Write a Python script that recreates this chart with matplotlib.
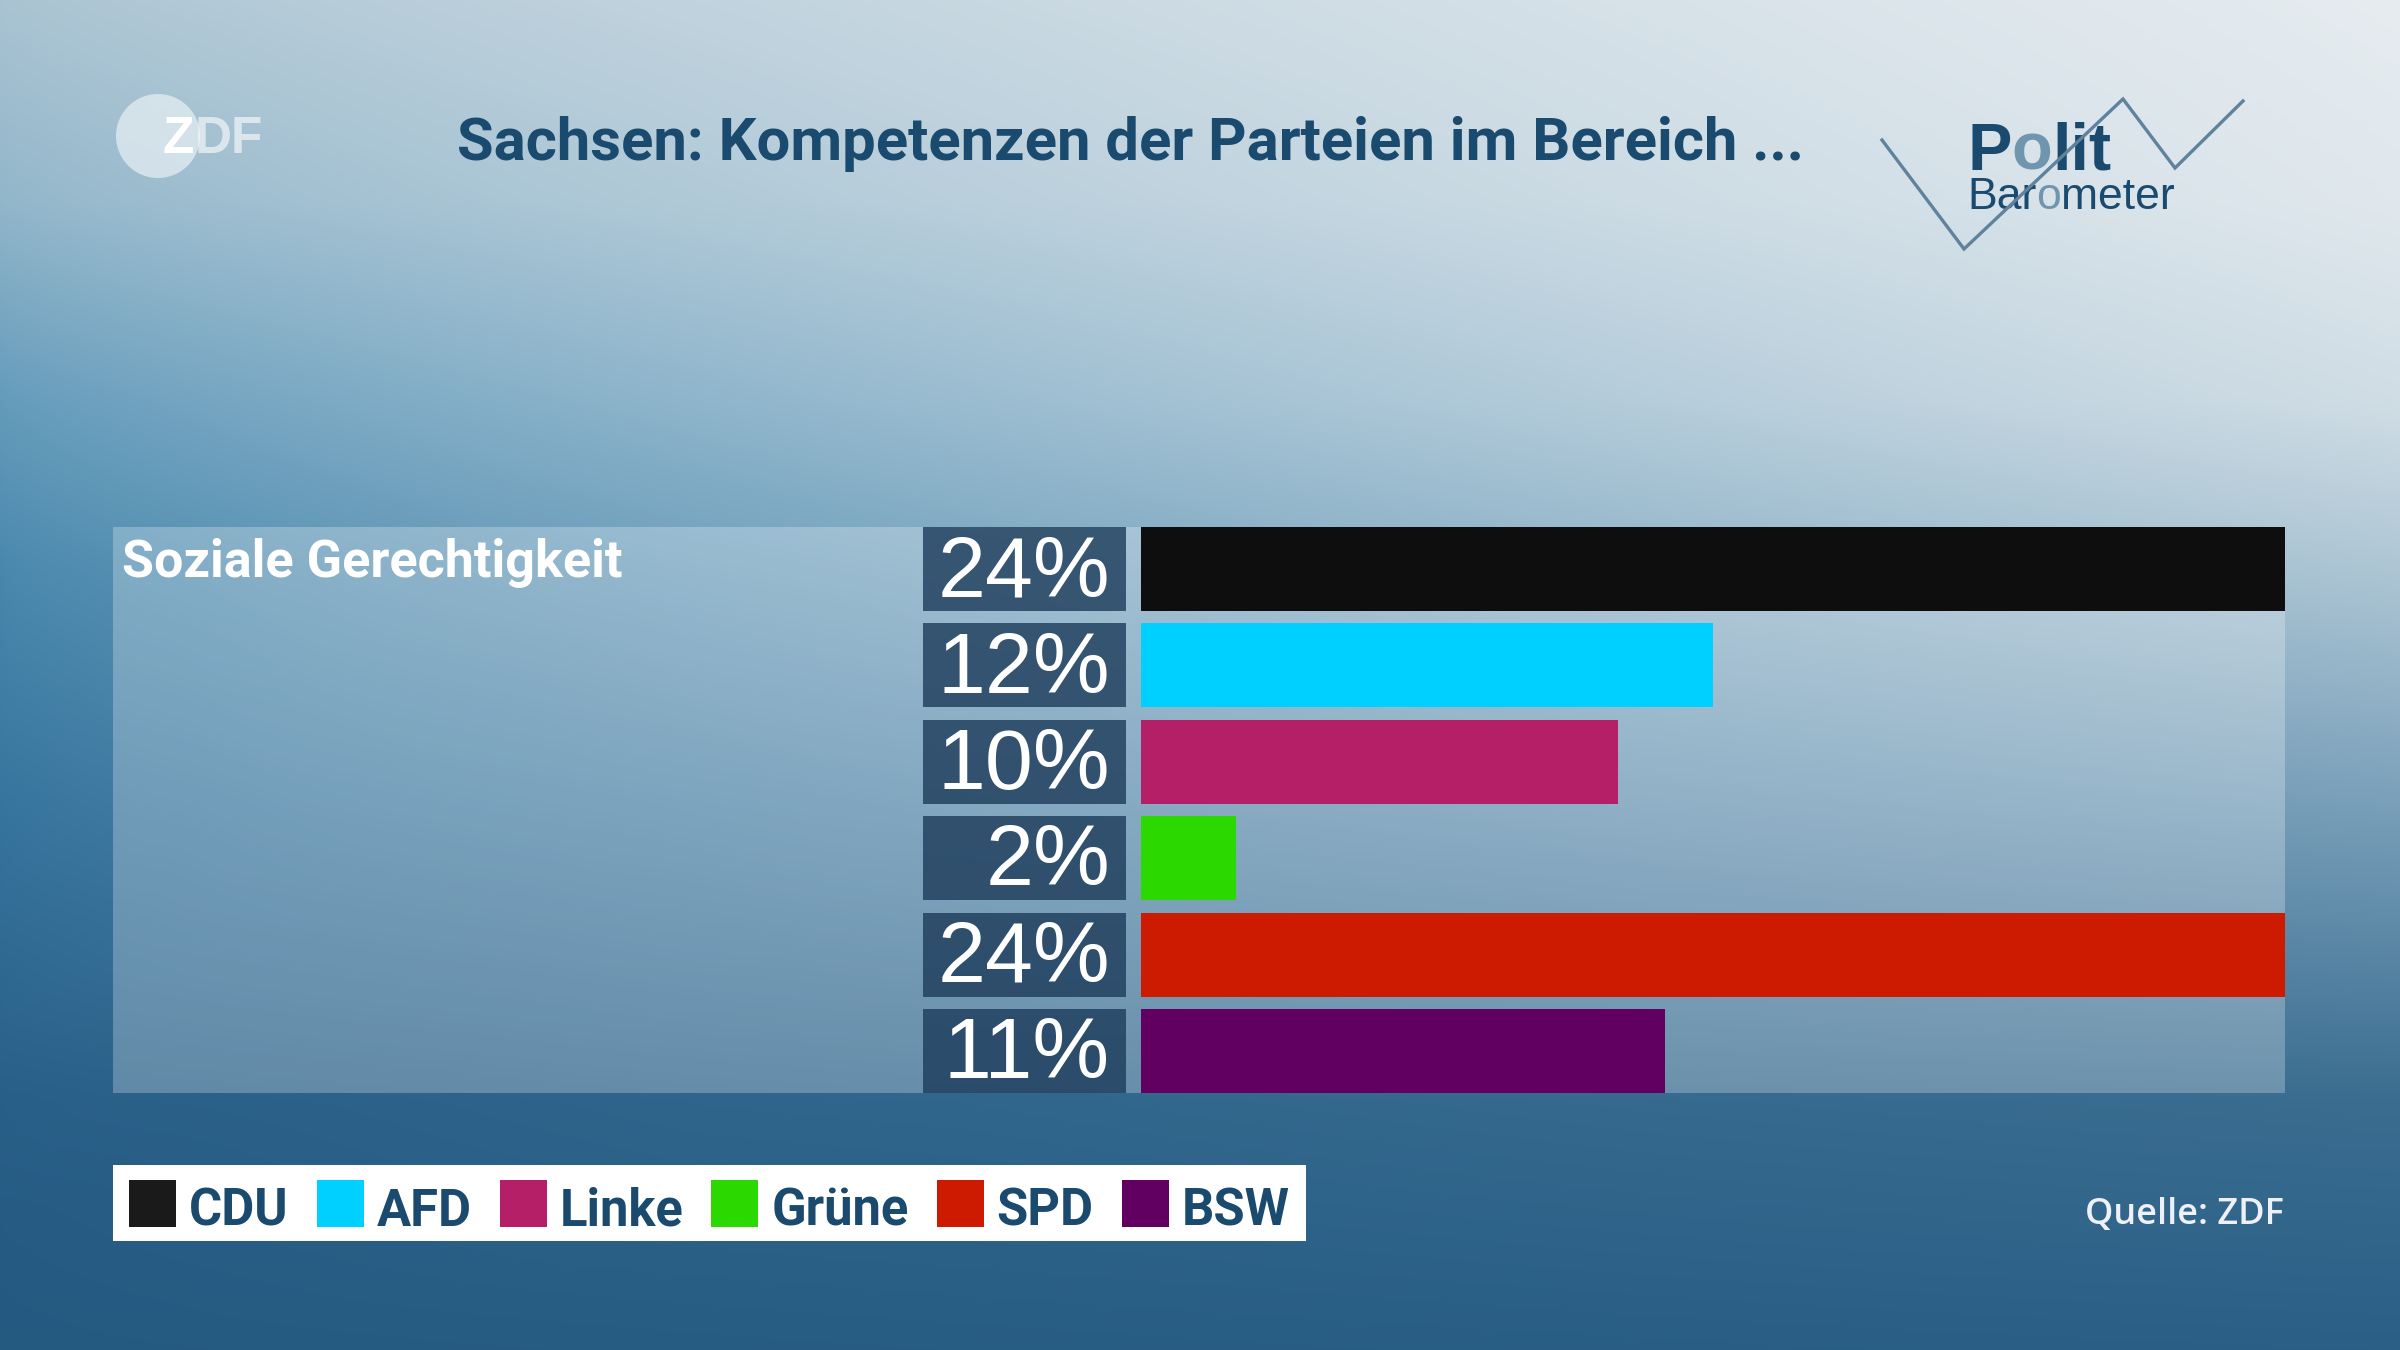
import numpy as np
import matplotlib
matplotlib.use("Agg")
import matplotlib.pyplot as plt
from matplotlib.patches import Rectangle, Circle
from matplotlib.colors import to_rgb

# ---------------- data ----------------
title = "Sachsen: Kompetenzen der Parteien im Bereich ..."
category = "Soziale Gerechtigkeit"
parties = ["CDU", "AFD", "Linke", "Grüne", "SPD", "BSW"]
values = [24, 12, 10, 2, 24, 11]
bar_colors = ["#0e0e0e", "#00d0ff", "#b51f67", "#2bd900", "#cc1b00", "#620062"]
legend_colors = ["#1a1a1a", "#00d0ff", "#b51f67", "#2bd900", "#cc1b00", "#620062"]
source = "Quelle: ZDF"

# ---------------- figure ----------------
W, H = 2400, 1350
fig = plt.figure(figsize=(24, 13.5), dpi=100)
bg = fig.add_axes([0, 0, 1, 1])
bg.set_xlim(0, W)
bg.set_ylim(H, 0)
bg.axis("off")

DARK = "#1a4a6e"
LIGHT = "#7095af"


def profile(stops):
    ys = [s[0] for s in stops]
    cs = np.array([to_rgb(s[1]) for s in stops])
    yy = np.arange(H)
    return np.stack([np.interp(yy, ys, cs[:, k]) for k in range(3)], axis=1)


left_prof = profile([(0, "#a9c3d2"), (200, "#92b6ca"), (400, "#649bbb"),
                     (560, "#4a89ae"), (800, "#37759e"), (1100, "#285f88"),
                     (1350, "#245980")])
right_prof = profile([(0, "#e6ecf0"), (200, "#e0e8ed"), (400, "#d0dde5"),
                      (560, "#afc7d5"), (800, "#7aa0ba"), (1100, "#3a6d90"),
                      (1350, "#2b5f86")])
wx = np.linspace(0, 1, 600) ** 0.75
img = left_prof[:, None, :] * (1 - wx[None, :, None]) + right_prof[:, None, :] * wx[None, :, None]
bg.imshow(img, extent=[0, W, H, 0], aspect="auto", zorder=0, interpolation="bilinear")

renderer = fig.canvas.get_renderer()


def text_width(s, **kw):
    t = bg.text(0, 0, s, **kw)
    w = t.get_window_extent(renderer=renderer).width
    t.remove()
    return w


def text_run(ax, x0, y, pieces, **kw):
    prefix = ""
    for s, c, a in pieces:
        off = text_width(prefix + s, **kw) - text_width(s, **kw) if prefix else 0
        ax.text(x0 + off, y, s, color=c, alpha=a, **kw)
        prefix += s


# ZDF logo
bg.add_patch(Circle((158, 136), 42, facecolor="#e4edf2", alpha=0.75, edgecolor="none", zorder=2))
text_run(bg, 163, 153, [("Z", "white", 1.0), ("DF", "white", 0.6)],
         fontsize=37, family="Liberation Sans", weight="bold", va="baseline", zorder=3)

# Title
bg.text(457, 160, title, fontsize=43, family="Roboto", weight="bold", color=DARK,
        va="baseline", ha="left", zorder=3)

# Polit Barometer logo
text_run(bg, 1967, 170, [("P", DARK, 1), ("o", LIGHT, 1), ("lit", DARK, 1)],
         fontsize=48, family="Liberation Sans", weight="bold", va="baseline", zorder=3)
text_run(bg, 1967, 209, [("Bar", DARK, 1), ("o", LIGHT, 1), ("meter", DARK, 1)],
         fontsize=32, family="Liberation Sans", va="baseline", zorder=3)
bg.plot([1882, 1964, 2123, 2175, 2243], [140, 249, 99, 168, 101], color="#5f829d",
        lw=2.4, zorder=4, solid_joinstyle="miter")

# Panel
PX0, PX1, PY0, PY1 = 113, 2285, 527, 1093
bg.add_patch(Rectangle((PX0, PY0), PX1 - PX0, PY1 - PY0, facecolor="white",
                       alpha=0.26, edgecolor="none", zorder=1))
bg.text(122, 577, category, fontsize=37.5, family="Roboto", weight="bold", color="white",
        va="baseline", ha="left", zorder=3)

# Bars
n = len(values)
pitch, hpx = 96.4, 84
hr = hpx / pitch
bottom = 1 - PY1 / H
height = (PY1 - PY0) / H

ax = fig.add_axes([1141 / W, bottom, (PX1 - 1141) / W, height])
ax.set_xlim(0, max(values))
ax.set_ylim(n - 1 + hr / 2, -hr / 2)
ax.barh(range(n), values, height=hr, color=bar_colors, zorder=2)
ax.axis("off")
ax.patch.set_visible(False)

# value label boxes
axl = fig.add_axes([923 / W, bottom, (1126 - 923) / W, height])
axl.set_xlim(0, 1)
axl.set_ylim(n - 1 + hr / 2, -hr / 2)
axl.barh(range(n), [1] * n, height=hr, color="#1c3b5a", alpha=0.8)
for i, v in enumerate(values):
    axl.text((1110 - 923) / (1126 - 923), i - 0.04, f"{v}%", ha="right", va="center_baseline",
             fontsize=62, family="Liberation Sans", color="white")
axl.axis("off")
axl.patch.set_visible(False)

# Legend
bg.add_patch(Rectangle((113, 1165), 1306 - 113, 1241 - 1165, facecolor="white",
                       edgecolor="none", zorder=2))
x = 129
for name, col in zip(parties, legend_colors):
    bg.add_patch(Rectangle((x, 1180), 47, 47, facecolor=col, edgecolor="none", zorder=3))
    t = bg.text(x + 47 + 13, 1226, name, fontsize=36.5, family="Roboto", weight="bold",
                color=DARK, va="baseline", ha="left", zorder=3)
    bb = t.get_window_extent(renderer=renderer)
    x = x + 47 + 13 + bb.width + 28

# Source
bg.text(2284, 1224, source, fontsize=26, family="Open Sans", weight=600, color="#eef0fa",
        va="baseline", ha="right", zorder=3)

fig.savefig("out.png", dpi=100)
